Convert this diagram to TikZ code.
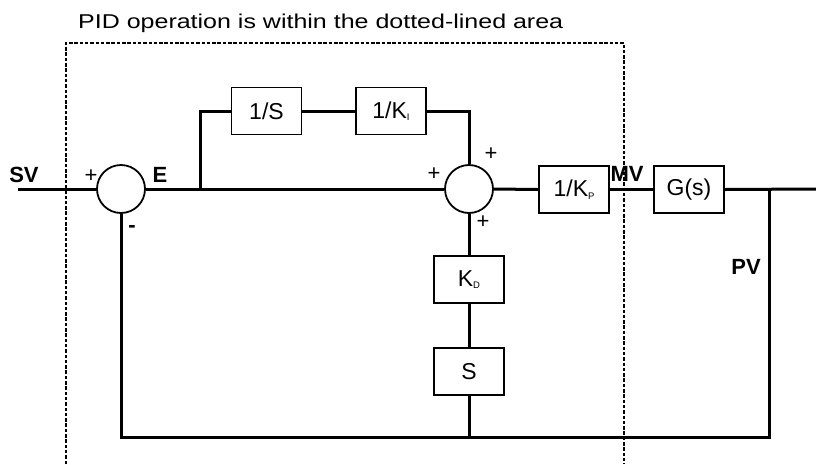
\documentclass[tikz,border=0pt]{standalone}
\usepackage{fontspec}
\setmainfont{Liberation Sans}
\newfontfamily\ttlfont[FakeStretch=1.25]{Liberation Sans}
\usetikzlibrary{positioning}
\newcommand{\sbs}[1]{\raisebox{-2.5pt}{\fontsize{9.5}{9.5}\selectfont #1}}

\begin{document}
\begin{tikzpicture}[x=1pt, y=-1pt,
  blk/.style={rectangle, draw, line width=1.8pt, minimum width=70pt,
    minimum height=47pt, inner sep=0pt, font=\fontsize{23}{23}\selectfont},
  sumj/.style={circle, draw, line width=1.8pt, minimum size=48pt, inner sep=0pt},
  sgn/.style={inner sep=0pt, font=\fontsize{22}{22}\selectfont},
  sig/.style={inner sep=0pt, font=\bfseries\fontsize{22}{22}\selectfont},
  wire/.style={line width=3pt},
  pidarea/.style={line width=2pt, dash pattern=on 3.5pt off 1.8pt},
]
\useasboundingbox (0,0) rectangle (816,464);
% Title and PID area
\node[inner sep=0pt, anchor=base west, font=\ttlfont\fontsize{20}{20}\selectfont]
  (ttl) at (78,28) {PID operation is within the dotted-lined area};
\draw[pidarea] (66,464) -- (66,43) -- (624,43) -- (624,464);
% Main row
\node[sumj] (sum1) at (121,189) {};
\node[sumj] (sum2) at (469,189) {};
\node[blk] (kp) at (574,189.5) {1/K\sbs{P}};
\node[blk] (gs) at (689,189.5) {G(s)};
% Integral branch
\node[blk] (si) at (266.5,111) {1/S};
\node[blk] (ki) at (391,111) {1/K\sbs{I}};
% Derivative branch
\node[blk] (kd) at (469,279.5) {K\sbs{D}};
\node[blk, below=43pt of kd] (sd) {S};
% Junctions
\coordinate (in) at (18,189);
\coordinate (out) at (816,189);
\coordinate (bi) at (200,189);
\coordinate (fb) at (769,189);
\coordinate (bot) at (769,437);
% Signal labels
\node[sig] (sv) at (24,174.5) {SV};
\node[sig] (e) at (160,174.5) {E};
\node[sig] (mv) at (627,173.5) {MV};
\node[sig] (pv) at (746,267) {PV};
\node[sgn] (p1) at (91,176) {+};
\node[sig] (m1) at (132,229) {-};
\node[sgn] (p2) at (434,174) {+};
\node[sgn] (p3) at (491,154) {+};
\node[sgn] (p4) at (483,222) {+};
% Wires
\draw[wire] (in) -- (sum1.west);
\draw[wire] (sum1.east) -- (sum2.west);
\draw[wire] (bi) |- (si.west);
\draw[wire] (si) -- (ki);
\draw[wire] (ki.east) -| (sum2.north);
\draw[wire] (sum2.east) -- (kp.west);
\draw[wire] (kp) -- (gs);
\draw[wire] (gs.east) -- (out);
\draw[wire] (sum2.south) -- (kd.north);
\draw[wire] (kd.south) -- (sd.north);
\draw[wire] (sd.south) -- (sd.south |- bot);
\draw[wire] (fb) -- (bot) -| (sum1.south);
\end{tikzpicture}
\end{document}
